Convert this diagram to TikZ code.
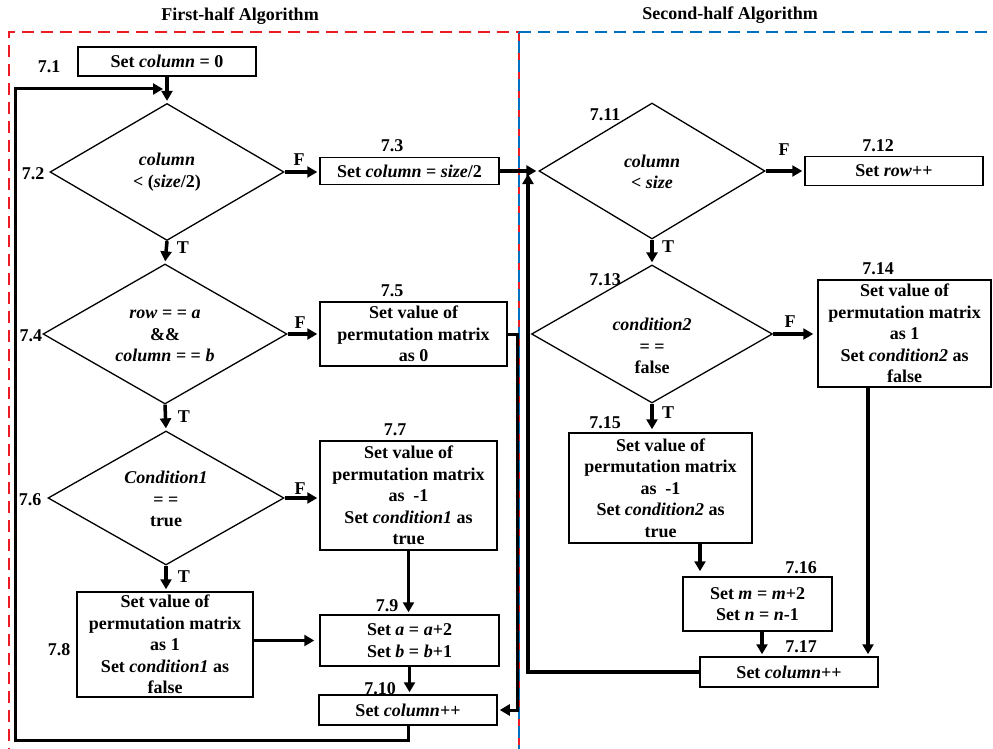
\documentclass[tikz,border=0pt]{standalone}
\usepackage{fontspec}
\setmainfont{Liberation Serif}
\usetikzlibrary{arrows.meta,shapes.geometric}
\definecolor{frameRed}{RGB}{237,28,36}
\definecolor{frameBlue}{RGB}{0,112,192}

\begin{document}
\begin{tikzpicture}[x=1pt,y=-1pt,
  every node/.style={font=\fontsize{18}{21.5}\selectfont\bfseries},
  box/.style={draw, line width=1.5pt, inner sep=0pt, align=center},
  decision/.style={draw, diamond, line width=1.3pt, inner sep=0pt},
  txt/.style={align=center, inner sep=0pt},
  tag/.style={inner sep=0pt},
  flow/.style={line width=3.5pt, -{Triangle[length=10pt,width=11pt]}, shorten >=2pt},
  frame/.style={line width=2.5pt, dash pattern=on 12pt off 7pt}
]
\useasboundingbox (0,0) rectangle (993,749);
\clip (0,0) rectangle (993,749);

% section frames and titles
\draw[frame, frameRed] (9,760) -- (9,32) -- (519,32);
\draw[frame, frameBlue] (519,32) -- (1000,32);
\draw[frame, frameRed] (519,32) -- (519,760);
\draw[frame, frameBlue, dash phase=9.5pt] (519,32) -- (519,760);
\node (title1) at (240,16) {First-half Algorithm};
\node (title2) at (730,15) {Second-half Algorithm};

% first half
\node[box, minimum width=178pt, minimum height=29pt] (b71) at (167,61.5) {Set \textit{column} = 0};
\node[decision, minimum width=234pt, minimum height=137pt] (d72) at (167,172) {};
\node[txt] (t72) at (167,172) {\textit{column}\\< (\textit{size}/2)};
\node[box, minimum width=179pt, minimum height=27pt] (b73) at (409.5,171) {Set \textit{column} = \textit{size}/2};
\node[decision, minimum width=244pt, minimum height=140pt] (d74) at (165,334) {};
\node[txt] (t74) at (165,336) {\textit{row} = = \textit{a}\\\&\&\\\textit{column} = = \textit{b}};
\node[box, minimum width=187pt, minimum height=64pt] (b75) at (413.5,334) {Set value of\\permutation matrix\\as 0};
\node[decision, minimum width=236pt, minimum height=134pt] (d76) at (166,498) {};
\node[txt] (t76) at (166,499) {\textit{Condition1}\\= =\\true};
\node[box, minimum width=177pt, minimum height=109pt] (b77) at (408.5,495.5) {Set value of\\permutation matrix\\as\enspace-1\\Set \textit{condition1} as\\true};
\node[box, minimum width=176pt, minimum height=105pt] (b78) at (165,644.5) {Set value of\\permutation matrix\\as 1\\Set \textit{condition1} as\\false};
\node[box, minimum width=179pt, minimum height=51pt] (b79) at (409.5,640.5) {Set \textit{a} = \textit{a}+2\\Set \textit{b} = \textit{b}+1};
\node[box, minimum width=178pt, minimum height=30pt] (b710) at (408,710) {Set \textit{column}++};

% second half
\node[decision, minimum width=226pt, minimum height=136pt] (d711) at (652,171) {};
\node[txt] (t711) at (652,172) {\textit{column}\\< \textit{size}};
\node[box, minimum width=178pt, minimum height=29pt] (b712) at (894,171) {Set \textit{row}++};
\node[decision, minimum width=241pt, minimum height=138pt] (d713) at (652,334) {};
\node[txt] (t713) at (652,346) {\textit{condition2}\\= =\\false};
\node[box, minimum width=173pt, minimum height=107pt] (b714) at (904.5,333.5) {Set value of\\permutation matrix\\as 1\\Set \textit{condition2} as\\false};
\node[box, minimum width=183pt, minimum height=110pt] (b715) at (660.5,488) {Set value of\\permutation matrix\\as\enspace-1\\Set \textit{condition2} as\\true};
\node[box, minimum width=149pt, minimum height=54pt] (b716) at (757.5,604) {Set \textit{m} = \textit{m}+2\\Set \textit{n} = \textit{n}-1};
\node[box, minimum width=178pt, minimum height=30pt] (b717) at (789,672) {Set \textit{column}++};

% step numbers
\node[tag] (n71) at (49,67) {7.1};
\node[tag] (n72) at (33,174) {7.2};
\node[tag] (n73) at (392,146) {7.3};
\node[tag] (n74) at (31,336) {7.4};
\node[tag] (n75) at (392,291) {7.5};
\node[tag] (n76) at (30,500) {7.6};
\node[tag] (n77) at (395,430) {7.7};
\node[tag] (n78) at (59,650) {7.8};
\node[tag] (n79) at (387,606) {7.9};
\node[tag] (n710) at (380,689) {7.10};
\node[tag] (n711) at (605,115) {7.11};
\node[tag] (n712) at (878,146) {7.12};
\node[tag] (n713) at (605,280) {7.13};
\node[tag] (n714) at (878,269) {7.14};
\node[tag] (n715) at (605,423) {7.15};
\node[tag] (n716) at (801,568) {7.16};
\node[tag] (n717) at (801,647) {7.17};

% branch labels
\node[tag] (f72) at (299,160) {F};
\node[tag] (tt72) at (183,248) {T};
\node[tag] (f74) at (300,323) {F};
\node[tag] (tt74) at (184,417) {T};
\node[tag] (f76) at (300,489) {F};
\node[tag] (tt76) at (184,577) {T};
\node[tag] (f711) at (784,150) {F};
\node[tag] (tt711) at (668,247) {T};
\node[tag] (f713) at (790,322) {F};
\node[tag] (tt713) at (668,413) {T};

% helper points for routed connectors
\coordinate (loopBL) at (15,740);
\coordinate (loopTop) at (165,89);
\coordinate (rise75) at (517,334);
\coordinate (rise717) at (528,172);
\coordinate (j715) at (700,543);
\coordinate (j716) at (762,631);
\coordinate (j714) at (868,387);

% first-half connectors
\draw[flow] (b71.south) -- (d72.north);
\draw[flow] (d72.east) -- (d72.east -| b73.west);
\draw[flow] (d72.south) -- (d74.north);
\draw[flow] (d74.east) -- (d74.east -| b75.west);
\draw[flow] (d74.south) -- (d76.north);
\draw[flow] (d76.east) -- (d76.east -| b77.west);
\draw[flow] (d76.south) -- (d76.south |- b78.north);
\draw[flow] (b77.south) -- (b77.south |- b79.north);
\draw[flow, shorten >=5pt] (b78.east |- b79.west) -- (b79.west);
\draw[flow] (b79.south) -- (b79.south |- b710.north);
\draw[flow, line width=3pt] (b75.east) -- (rise75) |- (b710.east);
\draw[flow, line width=3pt] (b710.south) |- (loopBL) |- (loopTop);
\draw[flow] (b73.east) -- (d711.west);

% second-half connectors
\draw[flow] (d711.east) -- (b712.west);
\draw[flow] (d711.south) -- (d713.north);
\draw[flow, shorten >=4pt] (d713.east) -- (d713.east -| b714.west);
\draw[flow, shorten >=3pt] (d713.south) -- (d713.south |- b715.north);
\draw[flow, shorten >=5pt] (j715) -- (j715 |- b716.north);
\draw[flow] (j716) -- (j716 |- b717.north);
\draw[flow] (j714) -- (j714 |- b717.north);
\draw[flow] (b717.west) -| (rise717);
\end{tikzpicture}
\end{document}
